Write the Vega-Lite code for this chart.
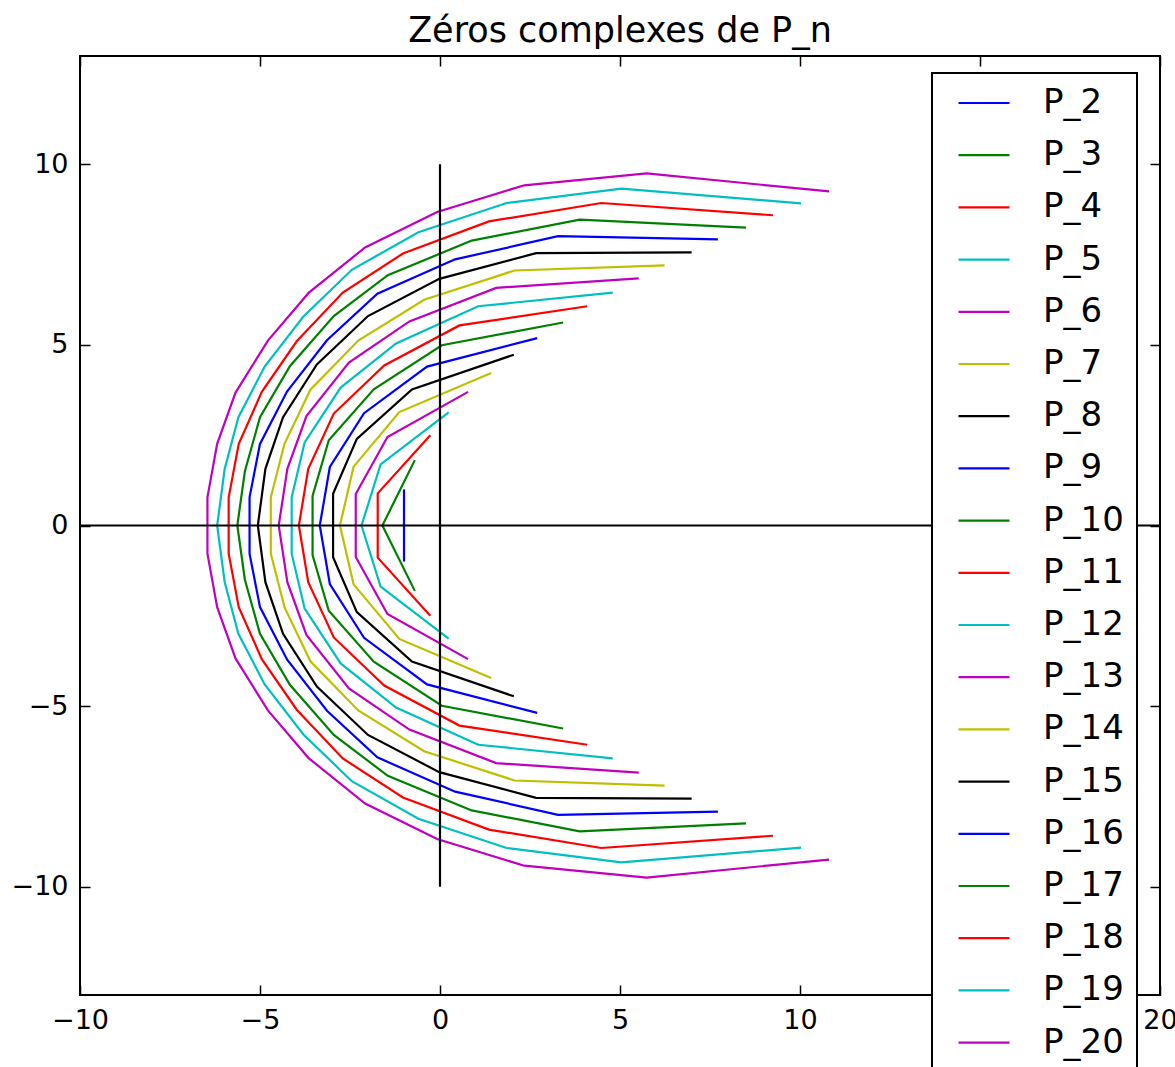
{
  "$schema": "https://vega.github.io/schema/vega-lite/v6.json",
  "width": 1080,
  "height": 939,
  "autosize": {"type": "none"},
  "padding": {"left": 80, "top": 56, "right": 15, "bottom": 72},
  "background": "white",
  "title": {"text": "Zéros complexes de P_n", "fontSize": 35, "font": "DejaVu Sans", "fontWeight": "normal", "color": "black", "offset": 6, "anchor": "middle"},
  "datasets": {
    "zeros": [
      {"p":"P_2","o":1,"x":-1,"y":1},{"p":"P_2","o":2,"x":-1,"y":-1},
      {"p":"P_3","o":1,"x":-0.70,"y":1.81},{"p":"P_3","o":2,"x":-1.60,"y":0},{"p":"P_3","o":3,"x":-0.70,"y":-1.81},
      {"p":"P_4","o":1,"x":-0.27,"y":2.50},{"p":"P_4","o":2,"x":-1.73,"y":0.89},{"p":"P_4","o":3,"x":-1.73,"y":-0.89},{"p":"P_4","o":4,"x":-0.27,"y":-2.50},
      {"p":"P_5","o":1,"x":0.24,"y":3.13},{"p":"P_5","o":2,"x":-1.65,"y":1.69},{"p":"P_5","o":3,"x":-2.18,"y":0},{"p":"P_5","o":4,"x":-1.65,"y":-1.69},{"p":"P_5","o":5,"x":0.24,"y":-3.13},
      {"p":"P_6","o":1,"x":0.78,"y":3.70},{"p":"P_6","o":2,"x":-1.46,"y":2.45},{"p":"P_6","o":3,"x":-2.34,"y":0.87},{"p":"P_6","o":4,"x":-2.34,"y":-0.87},{"p":"P_6","o":5,"x":-1.46,"y":-2.45},{"p":"P_6","o":6,"x":0.78,"y":-3.70},
      {"p":"P_7","o":1,"x":1.42,"y":4.22},{"p":"P_7","o":2,"x":-1.13,"y":3.14},{"p":"P_7","o":3,"x":-2.40,"y":1.63},{"p":"P_7","o":4,"x":-2.78,"y":0},{"p":"P_7","o":5,"x":-2.40,"y":-1.63},{"p":"P_7","o":6,"x":-1.13,"y":-3.14},{"p":"P_7","o":7,"x":1.42,"y":-4.22},
      {"p":"P_8","o":1,"x":2.05,"y":4.73},{"p":"P_8","o":2,"x":-0.78,"y":3.77},{"p":"P_8","o":3,"x":-2.31,"y":2.40},{"p":"P_8","o":4,"x":-2.97,"y":0.88},{"p":"P_8","o":5,"x":-2.97,"y":-0.88},{"p":"P_8","o":6,"x":-2.31,"y":-2.40},{"p":"P_8","o":7,"x":-0.78,"y":-3.77},{"p":"P_8","o":8,"x":2.05,"y":-4.73},
      {"p":"P_9","o":1,"x":2.70,"y":5.19},{"p":"P_9","o":2,"x":-0.36,"y":4.40},{"p":"P_9","o":3,"x":-2.11,"y":3.11},{"p":"P_9","o":4,"x":-3.06,"y":1.62},{"p":"P_9","o":5,"x":-3.34,"y":0},{"p":"P_9","o":6,"x":-3.06,"y":-1.62},{"p":"P_9","o":7,"x":-2.11,"y":-3.11},{"p":"P_9","o":8,"x":-0.36,"y":-4.40},{"p":"P_9","o":9,"x":2.70,"y":-5.19},
      {"p":"P_10","o":1,"x":3.42,"y":5.62},{"p":"P_10","o":2,"x":0.05,"y":4.99},{"p":"P_10","o":3,"x":-1.84,"y":3.77},{"p":"P_10","o":4,"x":-3.09,"y":2.36},{"p":"P_10","o":5,"x":-3.54,"y":0.82},{"p":"P_10","o":6,"x":-3.54,"y":-0.82},{"p":"P_10","o":7,"x":-3.09,"y":-2.36},{"p":"P_10","o":8,"x":-1.84,"y":-3.77},{"p":"P_10","o":9,"x":0.05,"y":-4.99},{"p":"P_10","o":10,"x":3.42,"y":-5.62},
      {"p":"P_11","o":1,"x":4.09,"y":6.07},{"p":"P_11","o":2,"x":0.54,"y":5.54},{"p":"P_11","o":3,"x":-1.55,"y":4.43},{"p":"P_11","o":4,"x":-2.95,"y":3.10},{"p":"P_11","o":5,"x":-3.66,"y":1.57},{"p":"P_11","o":6,"x":-3.92,"y":0},{"p":"P_11","o":7,"x":-3.66,"y":-1.57},{"p":"P_11","o":8,"x":-2.95,"y":-3.10},{"p":"P_11","o":9,"x":-1.55,"y":-4.43},{"p":"P_11","o":10,"x":0.54,"y":-5.54},{"p":"P_11","o":11,"x":4.09,"y":-6.07},
      {"p":"P_12","o":1,"x":4.80,"y":6.45},{"p":"P_12","o":2,"x":1.06,"y":6.07},{"p":"P_12","o":3,"x":-1.22,"y":5.04},{"p":"P_12","o":4,"x":-2.76,"y":3.82},{"p":"P_12","o":5,"x":-3.76,"y":2.30},{"p":"P_12","o":6,"x":-4.12,"y":0.78},{"p":"P_12","o":7,"x":-4.12,"y":-0.78},{"p":"P_12","o":8,"x":-3.76,"y":-2.30},{"p":"P_12","o":9,"x":-2.76,"y":-3.82},{"p":"P_12","o":10,"x":-1.22,"y":-5.04},{"p":"P_12","o":11,"x":1.06,"y":-6.07},{"p":"P_12","o":12,"x":4.80,"y":-6.45},
      {"p":"P_13","o":1,"x":5.52,"y":6.84},{"p":"P_13","o":2,"x":1.56,"y":6.58},{"p":"P_13","o":3,"x":-0.85,"y":5.65},{"p":"P_13","o":4,"x":-2.53,"y":4.51},{"p":"P_13","o":5,"x":-3.71,"y":3.03},{"p":"P_13","o":6,"x":-4.24,"y":1.57},{"p":"P_13","o":7,"x":-4.48,"y":0},{"p":"P_13","o":8,"x":-4.24,"y":-1.57},{"p":"P_13","o":9,"x":-3.71,"y":-3.03},{"p":"P_13","o":10,"x":-2.53,"y":-4.51},{"p":"P_13","o":11,"x":-0.85,"y":-5.65},{"p":"P_13","o":12,"x":1.56,"y":-6.58},{"p":"P_13","o":13,"x":5.52,"y":-6.84},
      {"p":"P_14","o":1,"x":6.24,"y":7.20},{"p":"P_14","o":2,"x":2.07,"y":7.06},{"p":"P_14","o":3,"x":-0.44,"y":6.25},{"p":"P_14","o":4,"x":-2.27,"y":5.12},{"p":"P_14","o":5,"x":-3.60,"y":3.76},{"p":"P_14","o":6,"x":-4.32,"y":2.26},{"p":"P_14","o":7,"x":-4.70,"y":0.78},{"p":"P_14","o":8,"x":-4.70,"y":-0.78},{"p":"P_14","o":9,"x":-4.32,"y":-2.26},{"p":"P_14","o":10,"x":-3.60,"y":-3.76},{"p":"P_14","o":11,"x":-2.27,"y":-5.12},{"p":"P_14","o":12,"x":-0.44,"y":-6.25},{"p":"P_14","o":13,"x":2.07,"y":-7.06},{"p":"P_14","o":14,"x":6.24,"y":-7.20},
      {"p":"P_15","o":1,"x":6.99,"y":7.56},{"p":"P_15","o":2,"x":2.67,"y":7.54},{"p":"P_15","o":3,"x":-0.02,"y":6.83},{"p":"P_15","o":4,"x":-2.00,"y":5.80},{"p":"P_15","o":5,"x":-3.42,"y":4.46},{"p":"P_15","o":6,"x":-4.36,"y":3.00},{"p":"P_15","o":7,"x":-4.85,"y":1.57},{"p":"P_15","o":8,"x":-5.06,"y":0},{"p":"P_15","o":9,"x":-4.85,"y":-1.57},{"p":"P_15","o":10,"x":-4.36,"y":-3.00},{"p":"P_15","o":11,"x":-3.42,"y":-4.46},{"p":"P_15","o":12,"x":-2.00,"y":-5.80},{"p":"P_15","o":13,"x":-0.02,"y":-6.83},{"p":"P_15","o":14,"x":2.67,"y":-7.54},{"p":"P_15","o":15,"x":6.99,"y":-7.56},
      {"p":"P_16","o":1,"x":7.72,"y":7.92},{"p":"P_16","o":2,"x":3.28,"y":8.01},{"p":"P_16","o":3,"x":0.42,"y":7.37},{"p":"P_16","o":4,"x":-1.74,"y":6.42},{"p":"P_16","o":5,"x":-3.14,"y":5.13},{"p":"P_16","o":6,"x":-4.25,"y":3.71},{"p":"P_16","o":7,"x":-5.00,"y":2.26},{"p":"P_16","o":8,"x":-5.29,"y":0.78},{"p":"P_16","o":9,"x":-5.29,"y":-0.78},{"p":"P_16","o":10,"x":-5.00,"y":-2.26},{"p":"P_16","o":11,"x":-4.25,"y":-3.71},{"p":"P_16","o":12,"x":-3.14,"y":-5.13},{"p":"P_16","o":13,"x":-1.74,"y":-6.42},{"p":"P_16","o":14,"x":0.42,"y":-7.37},{"p":"P_16","o":15,"x":3.28,"y":-8.01},{"p":"P_16","o":16,"x":7.72,"y":-7.92},
      {"p":"P_17","o":1,"x":8.50,"y":8.25},{"p":"P_17","o":2,"x":3.88,"y":8.47},{"p":"P_17","o":3,"x":0.88,"y":7.89},{"p":"P_17","o":4,"x":-1.45,"y":6.93},{"p":"P_17","o":5,"x":-2.95,"y":5.80},{"p":"P_17","o":6,"x":-4.17,"y":4.41},{"p":"P_17","o":7,"x":-5.00,"y":3.00},{"p":"P_17","o":8,"x":-5.42,"y":1.50},{"p":"P_17","o":9,"x":-5.63,"y":0},{"p":"P_17","o":10,"x":-5.42,"y":-1.50},{"p":"P_17","o":11,"x":-5.00,"y":-3.00},{"p":"P_17","o":12,"x":-4.17,"y":-4.41},{"p":"P_17","o":13,"x":-2.95,"y":-5.80},{"p":"P_17","o":14,"x":-1.45,"y":-6.93},{"p":"P_17","o":15,"x":0.88,"y":-7.89},{"p":"P_17","o":16,"x":3.88,"y":-8.47},{"p":"P_17","o":17,"x":8.50,"y":-8.25},
      {"p":"P_18","o":1,"x":9.25,"y":8.59},{"p":"P_18","o":2,"x":4.48,"y":8.93},{"p":"P_18","o":3,"x":1.36,"y":8.42},{"p":"P_18","o":4,"x":-1.03,"y":7.53},{"p":"P_18","o":5,"x":-2.70,"y":6.45},{"p":"P_18","o":6,"x":-3.98,"y":5.10},{"p":"P_18","o":7,"x":-4.95,"y":3.70},{"p":"P_18","o":8,"x":-5.59,"y":2.26},{"p":"P_18","o":9,"x":-5.87,"y":0.78},{"p":"P_18","o":10,"x":-5.87,"y":-0.78},{"p":"P_18","o":11,"x":-5.59,"y":-2.26},{"p":"P_18","o":12,"x":-4.95,"y":-3.70},{"p":"P_18","o":13,"x":-3.98,"y":-5.10},{"p":"P_18","o":14,"x":-2.70,"y":-6.45},{"p":"P_18","o":15,"x":-1.03,"y":-7.53},{"p":"P_18","o":16,"x":1.36,"y":-8.42},{"p":"P_18","o":17,"x":4.48,"y":-8.93},{"p":"P_18","o":18,"x":9.25,"y":-8.59},
      {"p":"P_19","o":1,"x":10.03,"y":8.92},{"p":"P_19","o":2,"x":5.04,"y":9.33},{"p":"P_19","o":3,"x":1.85,"y":8.93},{"p":"P_19","o":4,"x":-0.60,"y":8.12},{"p":"P_19","o":5,"x":-2.45,"y":7.08},{"p":"P_19","o":6,"x":-3.80,"y":5.78},{"p":"P_19","o":7,"x":-4.87,"y":4.40},{"p":"P_19","o":8,"x":-5.60,"y":3.00},{"p":"P_19","o":9,"x":-5.98,"y":1.57},{"p":"P_19","o":10,"x":-6.19,"y":0},{"p":"P_19","o":11,"x":-5.98,"y":-1.57},{"p":"P_19","o":12,"x":-5.60,"y":-3.00},{"p":"P_19","o":13,"x":-4.87,"y":-4.40},{"p":"P_19","o":14,"x":-3.80,"y":-5.78},{"p":"P_19","o":15,"x":-2.45,"y":-7.08},{"p":"P_19","o":16,"x":-0.60,"y":-8.12},{"p":"P_19","o":17,"x":1.85,"y":-8.93},{"p":"P_19","o":18,"x":5.04,"y":-9.33},{"p":"P_19","o":19,"x":10.03,"y":-8.92},
      {"p":"P_20","o":1,"x":10.81,"y":9.25},{"p":"P_20","o":2,"x":5.74,"y":9.75},{"p":"P_20","o":3,"x":2.34,"y":9.42},{"p":"P_20","o":4,"x":-0.08,"y":8.68},{"p":"P_20","o":5,"x":-2.08,"y":7.70},{"p":"P_20","o":6,"x":-3.65,"y":6.44},{"p":"P_20","o":7,"x":-4.78,"y":5.12},{"p":"P_20","o":8,"x":-5.68,"y":3.68},{"p":"P_20","o":9,"x":-6.19,"y":2.26},{"p":"P_20","o":10,"x":-6.46,"y":0.78},{"p":"P_20","o":11,"x":-6.46,"y":-0.78},{"p":"P_20","o":12,"x":-6.19,"y":-2.26},{"p":"P_20","o":13,"x":-5.68,"y":-3.68},{"p":"P_20","o":14,"x":-4.78,"y":-5.12},{"p":"P_20","o":15,"x":-3.65,"y":-6.44},{"p":"P_20","o":16,"x":-2.08,"y":-7.70},{"p":"P_20","o":17,"x":-0.08,"y":-8.68},{"p":"P_20","o":18,"x":2.34,"y":-9.42},{"p":"P_20","o":19,"x":5.74,"y":-9.75},{"p":"P_20","o":20,"x":10.81,"y":-9.25}
    ],
    "axes": [
      {"s":"h","o":1,"x":-10,"y":0},{"s":"h","o":2,"x":20,"y":0},
      {"s":"v","o":1,"x":0,"y":-10},{"s":"v","o":2,"x":0,"y":10}
    ]
  },
  "layer": [
    {
      "data": {"name": "zeros"},
      "mark": {"type": "line", "strokeWidth": 2.2, "clip": true},
      "encoding": {
        "x": {"field": "x", "type": "quantitative", "scale": {"domain": [-10, 20], "nice": false, "zero": false},
              "axis": {"orient": "bottom", "title": null, "values": [-10, -5, 0, 5, 10, 15, 20], "format": "d"}},
        "y": {"field": "y", "type": "quantitative", "scale": {"domain": [-13, 13], "nice": false, "zero": false},
              "axis": {"orient": "left", "title": null, "values": [-10, -5, 0, 5, 10], "format": "d"}},
        "color": {"field": "p", "type": "nominal",
          "scale": {"domain": ["P_2","P_3","P_4","P_5","P_6","P_7","P_8","P_9","P_10","P_11","P_12","P_13","P_14","P_15","P_16","P_17","P_18","P_19","P_20"],
                    "range": ["#0000ff","#008000","#ff0000","#00bfbf","#bf00bf","#bfbf00","#000000","#0000ff","#008000","#ff0000","#00bfbf","#bf00bf","#bfbf00","#000000","#0000ff","#008000","#ff0000","#00bfbf","#bf00bf"]},
          "legend": {"title": null, "orient": "none", "legendX": 852, "legendY": 17, "direction": "vertical",
                     "symbolType": "M-2,0H2", "symbolSize": 650, "symbolStrokeWidth": 2.2,
                     "labelFontSize": 34, "labelFont": "DejaVu Sans", "labelColor": "black", "labelLimit": 400,
                     "labelOffset": 42, "symbolOffset": 22, "padding": 13, "rowPadding": 18.2,
                     "strokeColor": "black", "fillColor": "white"}},
        "order": {"field": "o", "type": "quantitative"}
      }
    },
    {
      "data": {"name": "axes"},
      "mark": {"type": "line", "color": "black", "strokeWidth": 2.2},
      "encoding": {
        "x": {"field": "x", "type": "quantitative", "axis": {"orient": "top", "title": null, "labels": false, "values": [-10, -5, 0, 5, 10, 15, 20]}},
        "y": {"field": "y", "type": "quantitative", "axis": {"orient": "right", "title": null, "labels": false, "values": [-10, -5, 0, 5, 10]}},
        "detail": {"field": "s", "type": "nominal"},
        "order": {"field": "o", "type": "quantitative"}
      }
    }
  ],
  "resolve": {"axis": {"x": "independent", "y": "independent"}},
  "config": {
    "font": "DejaVu Sans",
    "view": {"stroke": "black", "strokeWidth": 2},
    "legend": {"strokeWidth": 2},
    "axis": {"domain": false, "grid": false, "tickSize": -10, "tickColor": "black", "tickWidth": 1.5,
             "labelFontSize": 27, "labelFont": "DejaVu Sans", "labelColor": "black", "labelPadding": 22,
             "labelFlush": false, "labelOverlap": false, "labelBound": false}
  }
}
